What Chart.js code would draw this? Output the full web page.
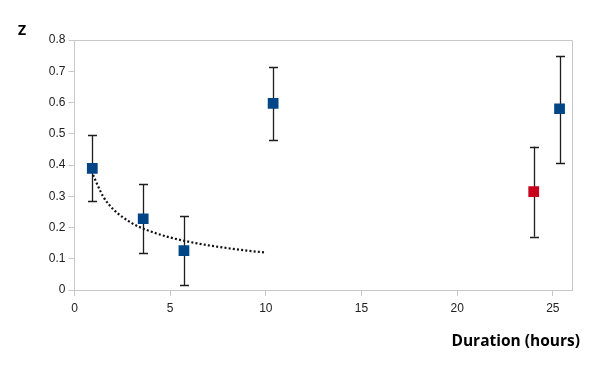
<!DOCTYPE html>
<html>
<head>
<meta charset="utf-8">
<script src="https://cdn.jsdelivr.net/npm/chart.js@4/dist/chart.umd.min.js"></script>
<style>
  body { margin: 0; background: #fff; }
  #wrap { width: 596px; height: 366px; }
</style>
</head>
<body>
<div id="wrap"><canvas id="myChart" width="596" height="366"></canvas></div>
<script>
// measured points (hours, Z) with error bar ends
var blueX = [0.93, 3.59, 5.72, 10.38, 25.35]
var blueY = [0.389, 0.228, 0.126, 0.597, 0.58]
var blueLo = [0.285, 0.117, 0.016, 0.481, 0.405]
var blueHi = [0.496, 0.339, 0.238, 0.713, 0.75]

var redX = [24.0]
var redY = [0.315]
var redLo = [0.171]
var redHi = [0.459]

// dotted trend line
var trendX = [0.97, 1.5, 2, 3, 4, 5, 6, 7, 8, 9, 10]
var trendY = [0.368, 0.299, 0.26, 0.214, 0.187, 0.168, 0.154, 0.143, 0.134, 0.126, 0.12]

var xTicks = [0, 5, 10, 15, 20, 25]
var yTicks = [0, 0.1, 0.2, 0.3, 0.4, 0.5, 0.6, 0.7, 0.8]

function pts(xs, ys) {
    return xs.map(function (v, i) { return { x: v, y: ys[i] } })
}

// error bars + frame + titles
var extras = {
    id: 'extras',
    beforeDatasetsDraw: function (chart) {
        var ctx = chart.ctx
        var xs = chart.scales.x, ys = chart.scales.y
        var bars = [[blueX, blueLo, blueHi], [redX, redLo, redHi]]
        ctx.save()
        ctx.strokeStyle = '#1e1e1e'
        ctx.lineWidth = 1.3
        bars.forEach(function (b) {
            for (var i = 0; i < b[0].length; i++) {
                var px = Math.round(xs.getPixelForValue(b[0][i])) + 0.5
                var lo = ys.getPixelForValue(b[1][i])
                var hi = ys.getPixelForValue(b[2][i])
                ctx.beginPath()
                ctx.moveTo(px, lo); ctx.lineTo(px, hi)
                ctx.moveTo(px - 4.5, Math.round(lo) + 0.5); ctx.lineTo(px + 4.5, Math.round(lo) + 0.5)
                ctx.moveTo(px - 4.5, Math.round(hi) + 0.5); ctx.lineTo(px + 4.5, Math.round(hi) + 0.5)
                ctx.stroke()
            }
        })
        ctx.restore()
    },
    afterDraw: function (chart) {
        var ctx = chart.ctx
        var a = chart.chartArea
        ctx.save()
        ctx.strokeStyle = '#c8c8c8'
        ctx.lineWidth = 1
        ctx.beginPath()
        ctx.moveTo(a.left, a.top + 0.5); ctx.lineTo(a.right + 0.5, a.top + 0.5)
        ctx.lineTo(a.right + 0.5, a.bottom)
        ctx.stroke()
        ctx.fillStyle = '#000'
        ctx.font = 'bold 14px "Open Sans", sans-serif'
        ctx.textBaseline = 'alphabetic'
        ctx.textAlign = 'left'
        ctx.fillText('Z', 18, 35)
        ctx.font = 'bold 15.5px "Open Sans", sans-serif'
        ctx.textAlign = 'right'
        ctx.fillText('Duration (hours)', 580, 346)
        ctx.restore()
    }
}

var ctx = document.getElementById('myChart').getContext('2d')
var chart = new Chart(ctx, {
    type: 'scatter',
    data: {
        datasets: [{
            label: 'trend',
            data: pts(trendX, trendY),
            showLine: true,
            borderColor: '#111',
            borderWidth: 2.2,
            borderDash: [2, 2.2],
            pointRadius: 0,
            cubicInterpolationMode: 'monotone',
            fill: false,
            order: 3
        }, {
            label: 'blue',
            data: pts(blueX, blueY),
            pointStyle: 'rect',
            pointRadius: 7.6,
            pointBackgroundColor: '#004586',
            pointBorderColor: '#004586',
            pointBorderWidth: 0,
            order: 1
        }, {
            label: 'red',
            data: pts(redX, redY),
            pointStyle: 'rect',
            pointRadius: 7.6,
            pointBackgroundColor: '#c8001e',
            pointBorderColor: '#c8001e',
            pointBorderWidth: 0,
            order: 2
        }]
    },
    options: {
        responsive: false,
        animation: false,
        layout: { padding: { left: 0, top: 40, right: 24, bottom: 0 } },
        plugins: {
            legend: { display: false },
            tooltip: { enabled: false }
        },
        scales: {
            x: {
                type: 'linear',
                min: 0,
                max: 26,
                afterBuildTicks: function (s) { s.ticks = xTicks.map(function (v) { return { value: v } }) },
                afterFit: function (s) { s.height = 76 },
                grid: { drawOnChartArea: false, drawTicks: true, tickLength: 6, color: '#c8c8c8' },
                border: { color: '#c8c8c8' },
                ticks: { color: '#222', font: { family: 'Liberation Sans', size: 12 }, padding: 5, maxRotation: 0 }
            },
            y: {
                type: 'linear',
                min: 0,
                max: 0.8,
                afterBuildTicks: function (s) { s.ticks = yTicks.map(function (v) { return { value: v } }) },
                afterFit: function (s) { s.width = 74.5 },
                grid: { drawOnChartArea: false, drawTicks: true, tickLength: 6, color: '#c8c8c8' },
                border: { color: '#c8c8c8' },
                ticks: { color: '#222', font: { family: 'Liberation Sans', size: 12 }, padding: 3 }
            }
        }
    },
    plugins: [extras]
})
</script>
</body>
</html>
